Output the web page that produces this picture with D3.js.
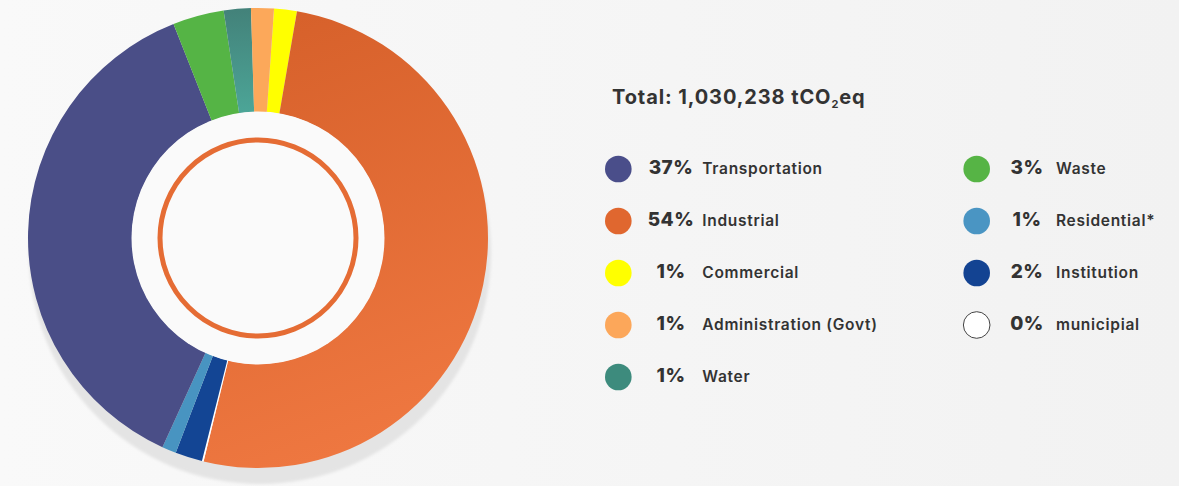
<!DOCTYPE html>
<html><head><meta charset="utf-8">
<script src="https://cdn.jsdelivr.net/npm/d3@7"></script>
<style>html,body{margin:0;padding:0;background:#f5f5f5;overflow:hidden}svg{display:block}</style>
</head><body><svg id="chart" width="1179" height="486"></svg>
<script>
// ---- data ----
const categories = ["Transportation","Industrial","Commercial","Administration (Govt)","Water","Waste","Residential*","Institution","municipial"];
const percentLabels = ["37%","54%","1%","1%","1%","3%","1%","2%","0%"];
// slice shares as drawn in the donut
const sliceShares = [37.2, 51.1, 1.6, 1.6, 1.9, 3.6, 1.0, 1.9, 0.12];
const sliceColors = ["#4a4e87","url(#gIndustrial)","#ffff00","#fca85a","url(#gWater)","#55b445","#4894c1","#134594","#ffffff"];
const legendColors = ["#4a4e8a","#e0672f","#ffff00","#fca75a","#3d8b7d","#56b445","#4a95c3","#134392","#ffffff"];
const pieOrder = ["Commercial","Industrial","municipial","Institution","Residential*","Transportation","Waste","Water","Administration (Govt)"];
const totalValue = "1,030,238";

const W = 1179, H = 486;
const svg = d3.select("#chart");
const defs = svg.append("defs");

const bg = defs.append("linearGradient").attr("id","gBg").attr("x1",0).attr("y1",0).attr("x2",1).attr("y2",0);
bg.append("stop").attr("offset","0").attr("stop-color","#f9f9f9");
bg.append("stop").attr("offset","1").attr("stop-color","#f2f2f2");

// gradients in coordinates relative to the donut centre
const gi = defs.append("linearGradient").attr("id","gIndustrial").attr("gradientUnits","userSpaceOnUse")
  .attr("x1",0).attr("y1",-228).attr("x2",160).attr("y2",205);
gi.append("stop").attr("offset","0").attr("stop-color","#d6602a");
gi.append("stop").attr("offset","1").attr("stop-color","#ef7841");

const gw = defs.append("linearGradient").attr("id","gWater").attr("gradientUnits","userSpaceOnUse")
  .attr("x1",0).attr("y1",-228).attr("x2",0).attr("y2",-126);
gw.append("stop").attr("offset","0").attr("stop-color","#43827a");
gw.append("stop").attr("offset","1").attr("stop-color","#4ca597");

const sh = defs.append("filter").attr("id","fShadow").attr("x","-10%").attr("y","-10%").attr("width","120%").attr("height","120%");
sh.append("feGaussianBlur").attr("stdDeviation",1.5);

svg.append("rect").attr("width",W).attr("height",H).attr("fill","url(#gBg)");

const cx = 258, cy = 238, R = 230, r0 = 126;

// shadow
svg.append("circle").attr("cx",cx+2).attr("cy",cy+15).attr("r",R+1)
  .attr("fill","#e4e4e4").attr("filter","url(#fShadow)");

const rows = categories.map((c,i)=>({name:c, pct:percentLabels[i], share:sliceShares[i], fill:sliceColors[i], lcolor:legendColors[i]}));
const ordered = pieOrder.map(n => rows.find(d=>d.name===n));

const startA = 4.0 * Math.PI/180;
const pie = d3.pie().sort(null).value(d=>d.share).startAngle(startA).endAngle(startA + 2*Math.PI);
const arc = d3.arc().innerRadius(r0).outerRadius(R);

const g = svg.append("g").attr("transform",`translate(${cx},${cy})`);
g.selectAll("path.slice").data(pie(ordered)).join("path")
  .attr("class","slice")
  .attr("d",arc)
  .attr("fill",d=>d.data.fill);

// hole
g.append("circle").attr("r",r0+0.5).attr("fill","#fafafa");
g.append("circle").attr("r",98).attr("fill","#fafafa").attr("stroke","#e56c34").attr("stroke-width",5);

// legend
const txt = "#333333";
const font = "Inter, 'Open Sans', sans-serif";
const title = svg.append("text").attr("x",612).attr("y",104).attr("font-family",font)
  .attr("font-weight",700).attr("font-size",20).attr("letter-spacing",0.9).attr("fill",txt);
title.append("tspan").text(`Total: ${totalValue} tCO`);
title.append("tspan").attr("font-size",11).attr("dy",4).text("2");
title.append("tspan").attr("dy",-4).text("eq");

const colDefs = [{cx:618.3, px:671, lx:702.3},{cx:976.7, px:1027, lx:1056}];
const legend = svg.append("g");
rows.forEach((d,i)=>{
  const col = i < 5 ? 0 : 1;
  const row = i < 5 ? i : i-5;
  const c = colDefs[col];
  const y = 169 + row*52;
  const it = legend.append("g");
  it.append("circle").attr("cx",c.cx).attr("cy",y).attr("r",13.3)
    .attr("fill",d.lcolor).attr("stroke",d.name==="municipial"?"#444":"none").attr("stroke-width",1);
  it.append("text").attr("x",c.px).attr("y",y+5.3).attr("text-anchor","middle")
    .attr("font-family",font).attr("font-weight",800).attr("font-size",19).attr("letter-spacing",0.5).attr("fill",txt).text(d.pct);
  it.append("text").attr("x",c.lx).attr("y",y+5.3)
    .attr("font-family",font).attr("font-weight",600).attr("font-size",15.5).attr("letter-spacing",0.7).attr("fill",txt).text(d.name);
});
</script></body></html>
